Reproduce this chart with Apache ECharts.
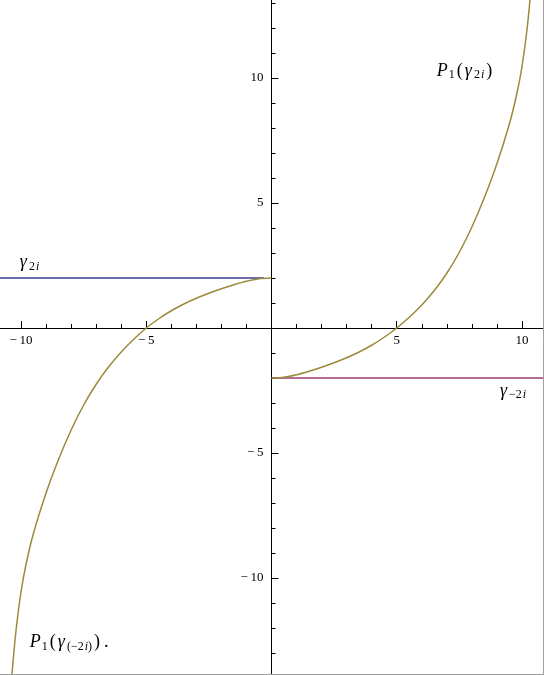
<!DOCTYPE html>
<html>
<head>
<meta charset="utf-8">
<script src="https://cdn.jsdelivr.net/npm/echarts@6/dist/echarts.min.js"></script>
<style>
html,body{margin:0;padding:0;background:#ffffff;}
#chart{width:544px;height:675px;}
</style>
</head>
<body>
<div id="chart"></div>
<script>
// ---- data ----
const xRange = [-10.84, 10.84];
const yRange = [-13.84, 13.12];
const xMajorTicks = [-10, -5, 5, 10];
const xMinorTicks = [-9, -8, -7, -6, -4, -3, -2, -1, 1, 2, 3, 4, 6, 7, 8, 9];
const yMajorTicks = [-10, -5, 5, 10];
const yMinorTicks = [-13, -12, -11, -9, -8, -7, -6, -4, -3, -2, -1, 1, 2, 3, 4, 6, 7, 8, 9, 11, 12, 13];

// P1(gamma_2i) branch
const rightBranchX = [0, 0.5, 1, 1.5, 2, 2.5, 3, 3.5, 4, 4.5, 5, 5.5, 6, 6.5, 7, 7.5, 8, 8.5, 9, 9.5, 9.8, 10.0, 10.2, 10.35, 10.45];
const rightBranchY = [-2, -1.97, -1.87, -1.73, -1.57, -1.39, -1.19, -0.96, -0.69, -0.37, 0, 0.43, 0.92, 1.5, 2.19, 3.03, 4.04, 5.22, 6.57, 8.17, 9.39, 10.45, 11.92, 13.45, 14.74];
// P1(gamma_(-2i)) branch
const leftBranchX = [0, -0.5, -1, -1.5, -2, -2.5, -3, -3.5, -4, -4.5, -5, -5.5, -6, -6.5, -7, -7.5, -8, -8.5, -9, -9.5, -9.8, -10.0, -10.2, -10.35, -10.45];
const leftBranchY = [2, 1.97, 1.87, 1.73, 1.57, 1.39, 1.19, 0.96, 0.69, 0.37, 0, -0.45, -0.96, -1.55, -2.25, -3.08, -4.08, -5.25, -6.6, -8.2, -9.45, -10.55, -12.1, -13.7, -15.0];
// horizontal lines gamma_2i and gamma_-2i
const gamma2iX = [-10.84, -0.3];
const gamma2iY = [2, 2];
const gammaM2iX = [0, 10.84];
const gammaM2iY = [-2, -2];

// annotation anchors (data coords, left edge / vertical middle)
const labelGamma2i = [-10.05, 2.6];
const labelGammaM2i = [9.12, -2.55];
const labelP1Pos = [6.6, 10.25];
const labelP1Neg = [-9.65, -12.6];

// ---- chart ----
const W = 544, H = 675;
const G = {left: 0, right: 1, top: 0, bottom: 1};
const gw = W - G.left - G.right, gh = H - G.top - G.bottom;
// distance from grid edge to the zero line of the other axis
const xAxisOffset = -(gh * (0 - yRange[0]) / (yRange[1] - yRange[0]));
const yAxisOffset = -(gw * (0 - xRange[0]) / (xRange[1] - xRange[0]));

const zip = (xs, ys) => xs.map((x, i) => [x, ys[i]]);
const chart = echarts.init(document.getElementById('chart'), null, {renderer: 'canvas'});
const fmt = v => v < 0 ? '\u2212\u2009' + Math.abs(v) : String(v);
const serif = '"Liberation Serif", "Times New Roman", serif';
const axisLineStyle = {color: '#000', width: 1};

const option = {
  animation: false,
  backgroundColor: '#ffffff',
  grid: Object.assign({containLabel: false, outerBoundsMode: 'none'}, G),
  xAxis: [
    {
      type: 'value', min: xRange[0], max: xRange[1], position: 'bottom', offset: xAxisOffset,
      axisLine: {show: true, onZero: false, lineStyle: axisLineStyle},
      axisTick: {show: true, inside: true, length: 7, customValues: xMajorTicks, lineStyle: axisLineStyle},
      axisLabel: {show: true, customValues: xMajorTicks, formatter: fmt, margin: 6,
        fontFamily: serif, fontSize: 13, color: '#000'},
      splitLine: {show: false}
    },
    {
      type: 'value', min: xRange[0], max: xRange[1], position: 'bottom', offset: xAxisOffset,
      axisLine: {show: false, onZero: false},
      axisTick: {show: true, inside: true, length: 4, customValues: xMinorTicks, lineStyle: axisLineStyle},
      axisLabel: {show: false},
      splitLine: {show: false}
    }
  ],
  yAxis: [
    {
      type: 'value', min: yRange[0], max: yRange[1], position: 'left', offset: yAxisOffset,
      axisLine: {show: true, onZero: false, lineStyle: axisLineStyle},
      axisTick: {show: true, inside: true, length: 7, customValues: yMajorTicks, lineStyle: axisLineStyle},
      axisLabel: {show: true, customValues: yMajorTicks, formatter: fmt, margin: 8,
        fontFamily: serif, fontSize: 13, color: '#000'},
      splitLine: {show: false}
    },
    {
      type: 'value', min: yRange[0], max: yRange[1], position: 'left', offset: yAxisOffset,
      axisLine: {show: false, onZero: false},
      axisTick: {show: true, inside: true, length: 4, customValues: yMinorTicks, lineStyle: axisLineStyle},
      axisLabel: {show: false},
      splitLine: {show: false}
    }
  ],
  series: [
    {
      type: 'line', name: 'gamma2i', xAxisIndex: 0, yAxisIndex: 0,
      data: zip(gamma2iX, gamma2iY), showSymbol: false, symbol: 'none',
      lineStyle: {color: '#3d3d8f', width: 1.6}, z: 2
    },
    {
      type: 'line', name: 'gammaM2i', xAxisIndex: 0, yAxisIndex: 0,
      data: zip(gammaM2iX, gammaM2iY), showSymbol: false, symbol: 'none',
      lineStyle: {color: '#993d70', width: 1.6}, z: 2
    },
    {
      type: 'line', name: 'P1pos', xAxisIndex: 0, yAxisIndex: 0,
      data: zip(rightBranchX, rightBranchY), showSymbol: false, symbol: 'none',
      smooth: 0.3, clip: true,
      lineStyle: {color: '#9a8b3c', width: 1.5}, z: 3
    },
    {
      type: 'line', name: 'P1neg', xAxisIndex: 0, yAxisIndex: 0,
      data: zip(leftBranchX, leftBranchY), showSymbol: false, symbol: 'none',
      smooth: 0.3, clip: true,
      lineStyle: {color: '#9a8b3c', width: 1.5}, z: 3
    }
  ]
};
chart.setOption(option);

const MAIN = 18, SUB = 12;
const rich = {
  it: {fontFamily: serif, fontStyle: 'italic', fontSize: MAIN, color: '#111', verticalAlign: 'bottom', padding: [0, 1, 1, 0]},
  up: {fontFamily: serif, fontSize: MAIN, color: '#111', verticalAlign: 'bottom', padding: [0, 2, 1, 2]},
  s: {fontFamily: serif, fontSize: SUB, color: '#111', verticalAlign: 'bottom', padding: [0, 0, 0, 0]},
  si: {fontFamily: serif, fontStyle: 'italic', fontSize: SUB, color: '#111', verticalAlign: 'bottom', padding: [0, 0, 0, 1]},
  gi: {fontFamily: serif, fontStyle: 'italic', fontSize: MAIN, color: '#111', verticalAlign: 'bottom', padding: [0, 2, 1, 0]}
};
function txt(anchor, str) {
  const p = chart.convertToPixel({gridIndex: 0}, anchor);
  return {type: 'text', x: p[0], y: p[1], z: 10,
    style: {text: str, rich: rich, align: 'left', verticalAlign: 'middle'}};
}
chart.setOption({
  graphic: [
    txt(labelGamma2i, '{gi|\u03b3}{s|2}{si|i}'),
    txt(labelGammaM2i, '{gi|\u03b3}{s|\u22122}{si|i}'),
    txt(labelP1Pos, '{it|P}{s|1}{up|(}{gi|\u03b3}{s|2}{si|i}{up|)}'),
    txt(labelP1Neg, '{it|P}{s|1}{up|(}{gi|\u03b3}{s|(\u22122}{si|i}{s|)}{up|)}{up|.}'),
    {type: 'line', z: 20, shape: {x1: 543.5, y1: 0, x2: 543.5, y2: 675}, style: {stroke: '#a0a0a0', lineWidth: 1}},
    {type: 'line', z: 20, shape: {x1: 0, y1: 674.5, x2: 544, y2: 674.5}, style: {stroke: '#a0a0a0', lineWidth: 1}}
  ]
});
</script>
</body>
</html>
